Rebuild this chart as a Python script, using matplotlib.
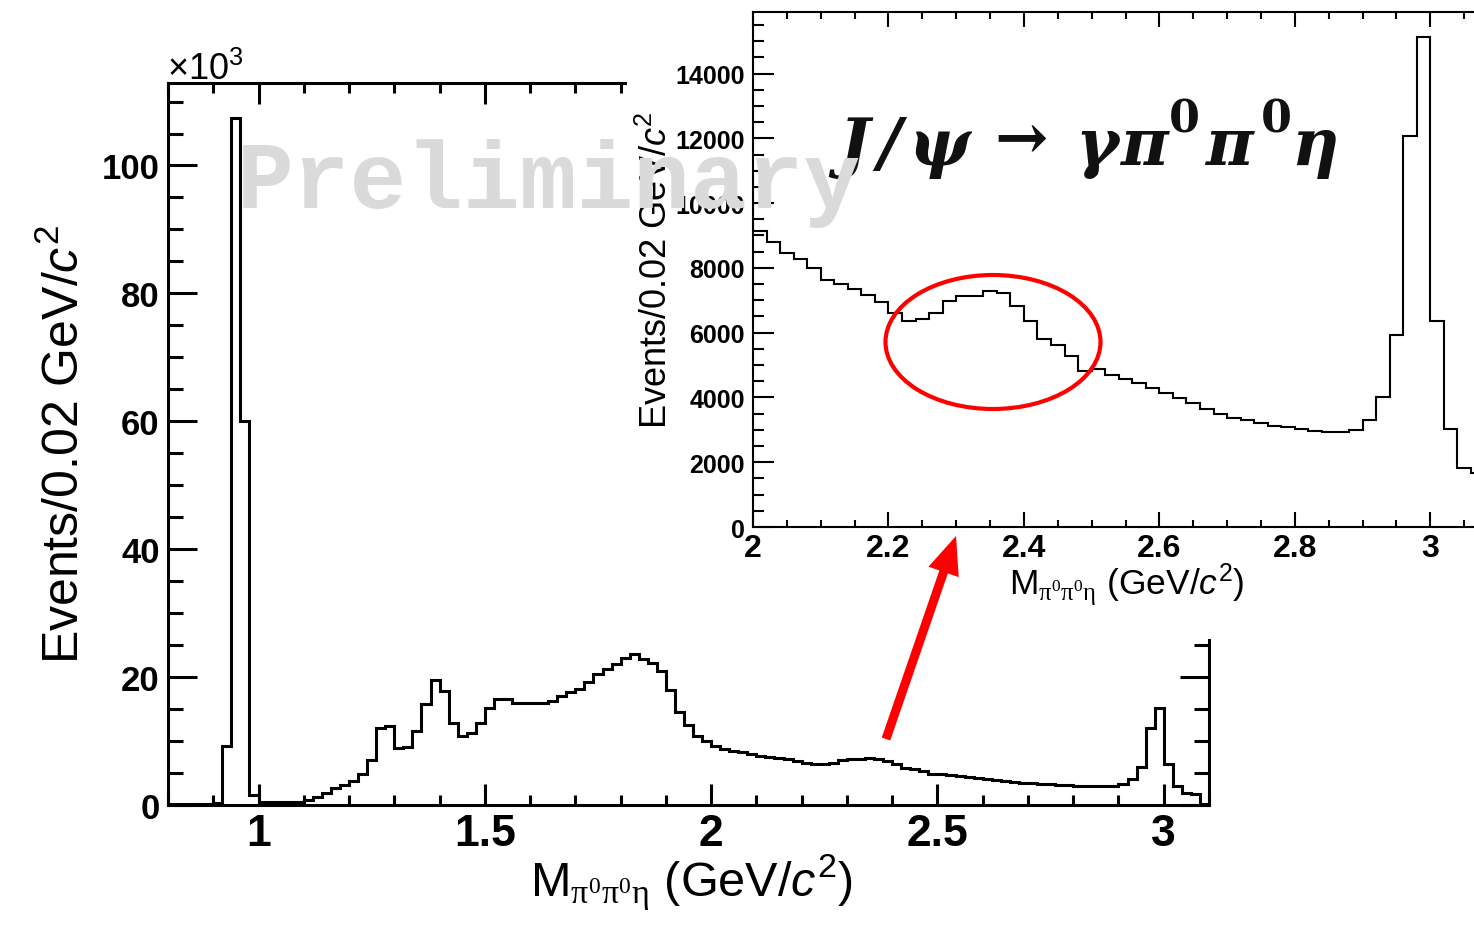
import numpy as np
import matplotlib
matplotlib.use("Agg")
import matplotlib.pyplot as plt
from matplotlib.ticker import MultipleLocator, FuncFormatter
from matplotlib.patches import Ellipse, FancyArrow, Rectangle
from matplotlib.transforms import Affine2D

plt.rcParams['font.family'] = ['Liberation Sans', 'DejaVu Sans']
plt.rcParams['mathtext.fontset'] = 'custom'
plt.rcParams['mathtext.rm'] = 'Liberation Serif'
plt.rcParams['mathtext.it'] = 'Liberation Sans:italic'
plt.rcParams['mathtext.sf'] = 'Liberation Sans'
plt.rcParams['mathtext.bf'] = 'Liberation Sans:bold'

# ---------------- data ----------------
bin_start = 0.80
bin_width = 0.02
# events per 0.02 GeV/c^2 bin, from 0.80 to 3.10
events = [
    200, 200, 200, 200, 200, 300, 9200, 107500, 60100, 1600,            # 0.80-0.98
    500, 400, 400, 500, 500, 800, 1300, 1800, 2600, 3200,               # 1.00-1.18
    3800, 4900, 7100, 12100, 12400, 8900, 9100, 11500, 15800, 19600,    # 1.20-1.38
    17900, 12800, 10800, 11200, 12800, 15100, 16500, 16500, 15900, 15900,  # 1.40-1.58
    15900, 15900, 16200, 17000, 17600, 18200, 19200, 20500, 21200, 22000,  # 1.60-1.78
    23000, 23600, 22900, 22200, 20900, 18000, 14600, 12500, 10800, 10000,  # 1.80-1.98
    9150, 8800, 8450, 8280, 8010, 7640, 7500, 7350, 7170, 6950,         # 2.00-2.18
    6620, 6370, 6420, 6620, 6985, 7140, 7140, 7300, 7215, 6830,         # 2.20-2.38
    6345, 5800, 5610, 5280, 4810, 4885, 4680, 4575, 4450, 4295,         # 2.40-2.58
    4140, 3985, 3830, 3655, 3500, 3365, 3310, 3210, 3105, 3075,         # 2.60-2.78
    3020, 2970, 2920, 2920, 3000, 3310, 4015, 5920, 12080, 15140,       # 2.80-2.98
    6360, 3020, 1810, 1655, 100,                                        # 3.00-3.08
]
main_xticks_major = [1.0, 1.5, 2.0, 2.5, 3.0]
inset_xticks_major = [2.0, 2.2, 2.4, 2.6, 2.8, 3.0]
ylabel_text = r"Events/0.02 GeV/$\mathit{c}^{\mathsf{2}}$"
xlabel_text = r"M$_{\mathrm{\pi^{0}\pi^{0}\eta}}$ (GeV/$\mathit{c}^{\mathsf{2}}$)"
title_glyphs = ["J", "/", "ψ", "→", "γ", "π", "0", "π", "0", "η"]

# ---------------- figure ----------------
W, H = 1474, 928
fig = plt.figure(figsize=(W / 100, H / 100), dpi=100)
fig.patch.set_facecolor('white')
pix = Affine2D().scale(1 / fig.dpi) + fig.dpi_scale_trans


def rect(l, t, r, b):
    return [l / W, 1 - b / H, (r - l) / W, (b - t) / H]


def ftext(x, y, s, **kw):
    return fig.text(x / W, 1 - y / H, s, **kw)


edges = bin_start + bin_width * np.arange(len(events) + 1)

# ---- main axes ----
ax = fig.add_axes(rect(168, 84, 1209, 806))
ax.stairs(events, edges, color='black', lw=2.2, baseline=0)
ax.set_xlim(0.8, 3.1)
ax.set_ylim(0, 112900)
ax.set_xticks(main_xticks_major)
ax.xaxis.set_minor_locator(MultipleLocator(0.1))
ax.yaxis.set_major_locator(MultipleLocator(20000))
ax.yaxis.set_minor_locator(MultipleLocator(5000))
ax.xaxis.set_major_formatter(FuncFormatter(lambda v, p: f"{v:g}"))
ax.yaxis.set_major_formatter(FuncFormatter(lambda v, p: f"{v / 1000:g}"))
ax.tick_params(which='both', direction='in', top=True, right=True, width=2.2)
ax.tick_params(axis='x', which='major', length=15, pad=6, labelsize=32)
ax.tick_params(axis='x', which='minor', length=7)
ax.tick_params(axis='y', which='major', length=21, pad=6, labelsize=25)
ax.tick_params(axis='y', which='minor', length=11)
for lab in ax.get_xticklabels() + ax.get_yticklabels():
    lab.set_fontweight('bold')
for sp in ax.spines.values():
    sp.set_linewidth(2.2)

ftext(167, 80, r"×10$^{\mathsf{3}}$", fontsize=26, ha='left', va='baseline')
ftext(79, 445, ylabel_text, fontsize=36, rotation=90, rotation_mode='anchor',
      ha='center', va='baseline')
ftext(691, 896, xlabel_text, fontsize=35, ha='center', va='baseline')

# ---- white cover where the inset image sits ----
fig.add_artist(Rectangle((627, H - 640), W - 627, 640, transform=pix,
                         facecolor='white', edgecolor='none', zorder=1))

# ---- inset axes ----
axi = fig.add_axes(rect(753, 13, 1498, 528))
axi.set_zorder(2)
axi.stairs(events, edges, color='black', lw=1.5, baseline=0)
axi.set_xlim(2.0, 3.1)
axi.set_ylim(0, 15900)
axi.set_xticks(inset_xticks_major)
axi.xaxis.set_minor_locator(MultipleLocator(0.05))
axi.yaxis.set_major_locator(MultipleLocator(2000))
axi.yaxis.set_minor_locator(MultipleLocator(500))
axi.xaxis.set_major_formatter(FuncFormatter(lambda v, p: f"{v:g}"))
axi.yaxis.set_major_formatter(FuncFormatter(lambda v, p: f"{v:.0f}"))
axi.tick_params(which='both', direction='in', top=True, right=True, width=1.5)
axi.tick_params(axis='x', which='major', length=11, pad=4, labelsize=23)
axi.tick_params(axis='x', which='minor', length=5)
axi.tick_params(axis='y', which='major', length=15, pad=6, labelsize=18)
axi.tick_params(axis='y', which='minor', length=8)
for lab in axi.get_xticklabels() + axi.get_yticklabels():
    lab.set_fontweight('bold')
for sp in axi.spines.values():
    sp.set_linewidth(1.5)

ftext(667, 270, ylabel_text, fontsize=26, rotation=90, rotation_mode='anchor',
      ha='center', va='baseline', zorder=3)
ftext(1127, 594, xlabel_text, fontsize=25.5, ha='center', va='baseline', zorder=3)

# ---- red ellipse and arrow ----
fig.add_artist(Ellipse((993, H - 343), 215, 134, transform=pix, fill=False,
                       edgecolor='#ff0000', lw=3.0, zorder=3))
tail = (886, H - 740)
tip = (956, H - 537)
fig.add_artist(FancyArrow(tail[0], tail[1], tip[0] - tail[0], tip[1] - tail[1],
                          width=9, head_width=32, head_length=38,
                          length_includes_head=True, transform=pix,
                          facecolor='#ff0000', edgecolor='none', zorder=3))

# ---- title J/psi -> gamma pi0 pi0 eta ----
title_x = [854, 889, 939, 1021, 1097, 1144, 1184, 1229, 1276, 1315]
title_y = [165, 165, 165, 163, 165, 165, 133, 165, 133, 165]
for g, x, y in zip(title_glyphs, title_x, title_y):
    if g == "0":
        ftext(x, y, g, fontsize=32, fontweight='bold', family=['DejaVu Serif'],
              ha='center', va='baseline', color='#111111', zorder=4)
    elif g == "→":
        ftext(x, y - 4, g, fontsize=46, fontweight='bold', family=['DejaVu Serif'],
              ha='center', va='baseline', color='#111111', zorder=4)
    else:
        ftext(x, y, g, fontsize=47, fontweight='bold', fontstyle='italic',
              family=['DejaVu Serif'], ha='center', va='baseline',
              color='#111111', zorder=4)

# ---- Preliminary watermark ----
ftext(237, 208, "Preliminary", fontsize=68, family=['Liberation Mono'],
      fontweight='bold', color='#dadada', ha='left', va='baseline', zorder=5)

fig.savefig("out.png", dpi=100, facecolor='white')
